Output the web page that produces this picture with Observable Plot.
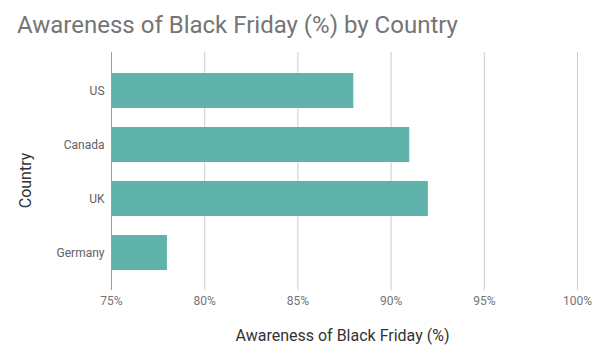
<!DOCTYPE html>
<html><head><meta charset="utf-8">
<script src="https://cdn.jsdelivr.net/npm/d3@7"></script>
<script src="https://cdn.jsdelivr.net/npm/@observablehq/plot@0.6"></script>
<style>
body{margin:0;background:#fff;font-family:Roboto,sans-serif;}
#wrap{position:relative;width:593px;height:363px;}
#title{position:absolute;z-index:2;left:17px;top:11px;font-size:24px;color:#757575;font-family:Roboto,sans-serif;white-space:nowrap;}
</style></head>
<body><div id="wrap"><div id="title">Awareness of Black Friday (%) by Country</div></div>
<script>
const countries = ["US", "Canada", "UK", "Germany"];
const awareness = [88, 91, 92, 78];
const xTicks = [75, 80, 85, 90, 95, 100];
const data = countries.map((c, i) => ({country: c, value: awareness[i]}));

const chart = Plot.plot({
  width: 593, height: 363,
  marginLeft: 111, marginRight: 16, marginTop: 52, marginBottom: 73,
  style: {fontFamily: "Roboto, sans-serif", background: "transparent"},
  x: {domain: [75, 100]},
  y: {domain: countries, padding: 0.36},
  marks: [
    Plot.gridX(xTicks.slice(1), {stroke: "#cccccc", strokeOpacity: 1}),
    Plot.barX(data, {x1: 75, x2: "value", y: "country", fill: "#5fb3aa"}),
    Plot.ruleX([75], {stroke: "#9e9e9e"}),
    Plot.axisX(xTicks, {tickSize: 0, tickPadding: 6, tickFormat: d => d + "%", fontSize: 12, fill: "#757575", label: null}),
    Plot.axisY({tickSize: 0, tickPadding: 7, fontSize: 12, fill: "#616161", label: null}),
    Plot.text(["Awareness of Black Friday (%)"], {frameAnchor: "bottom", dx: -2, dy: 50, fontSize: 16, fill: "#333333"}),
    Plot.text(["Country"], {frameAnchor: "left", textAnchor: "middle", dx: -86, dy: 9, rotate: -90, fontSize: 16, fill: "#333333"})
  ]
});
chart.style.position = "absolute";
chart.style.left = "0";
chart.style.top = "0";
chart.style.zIndex = "1";
document.getElementById("wrap").appendChild(chart);
</script></body></html>
